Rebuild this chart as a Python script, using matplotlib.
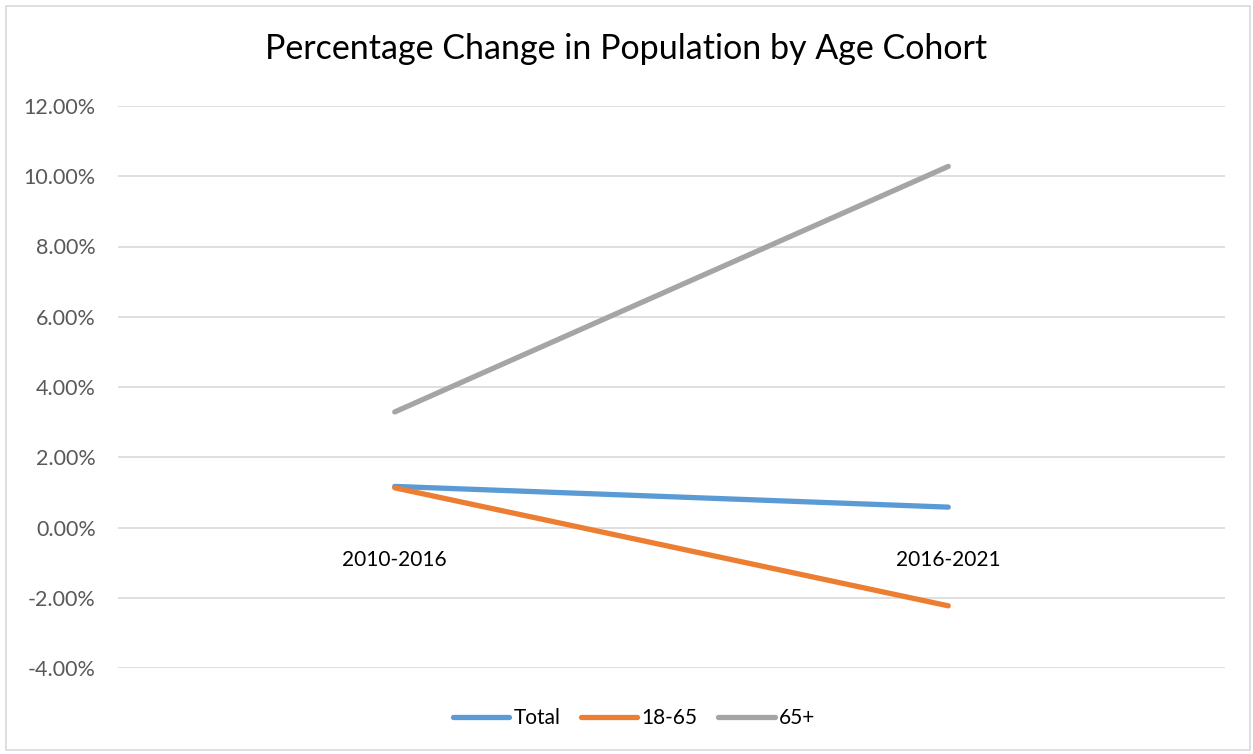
import matplotlib
matplotlib.use("Agg")
import matplotlib.pyplot as plt
from matplotlib.patches import Rectangle
from matplotlib.ticker import FuncFormatter, MultipleLocator

categories = ["2010-2016", "2016-2021"]
series_names = ["Total", "18-65", "65+"]
total = [1.17, 0.58]
age_18_65 = [1.13, -2.23]
age_65_plus = [3.29, 10.28]
colors = ["#5B9BD5", "#ED7D31", "#A5A5A5"]

FONT = ["Lato", "DejaVu Sans"]
plt.rcParams["font.family"] = FONT

fig = plt.figure(figsize=(12.53, 7.54), dpi=100)
fig.patches.append(Rectangle((6/1253, 4/754), 1244/1253, 744/754, transform=fig.transFigure,
                             fill=False, edgecolor="#D9D9D9", linewidth=1.2))
ax = fig.add_axes([118/1253, 1-668/754, (1225-118)/1253, (668-106)/754])

x = [0, 1]
for name, vals, c in zip(series_names, [total, age_18_65, age_65_plus], colors):
    ax.plot(x, vals, color=c, linewidth=3.8, solid_capstyle="round", label=name, zorder=3)

ax.set_xlim(-0.5, 1.5)
ax.set_ylim(-4, 12)
ax.yaxis.set_major_locator(MultipleLocator(2))
ax.yaxis.set_major_formatter(FuncFormatter(lambda v, p: f"{v:.2f}%"))
ax.grid(axis="y", color="#D9D9D9", linewidth=1.2, zorder=0)
ax.set_axisbelow(True)
for s in ax.spines.values():
    s.set_visible(False)
ax.tick_params(axis="y", length=0, pad=16, labelsize=15.5, labelcolor="#595959")
ax.set_xticks([])
for i, cat in enumerate(categories):
    ax.annotate(cat, xy=(i, 0), xytext=(0, -32), textcoords="offset pixels",
                ha="center", va="center", fontsize=15, color="#000000")

fig.text(0.5, 1-49/754, "Percentage Change in Population by Age Cohort",
         ha="center", va="center", fontsize=24.5, color="#000000")

leg = fig.legend(loc="center", bbox_to_anchor=(634/1253, 1-718/754), ncol=3, frameon=False,
                 fontsize=15, handlelength=2.7, handletextpad=0.2, columnspacing=1.0)
for t in leg.get_texts():
    t.set_color("#000000")

fig.savefig("out.png", dpi=100)
